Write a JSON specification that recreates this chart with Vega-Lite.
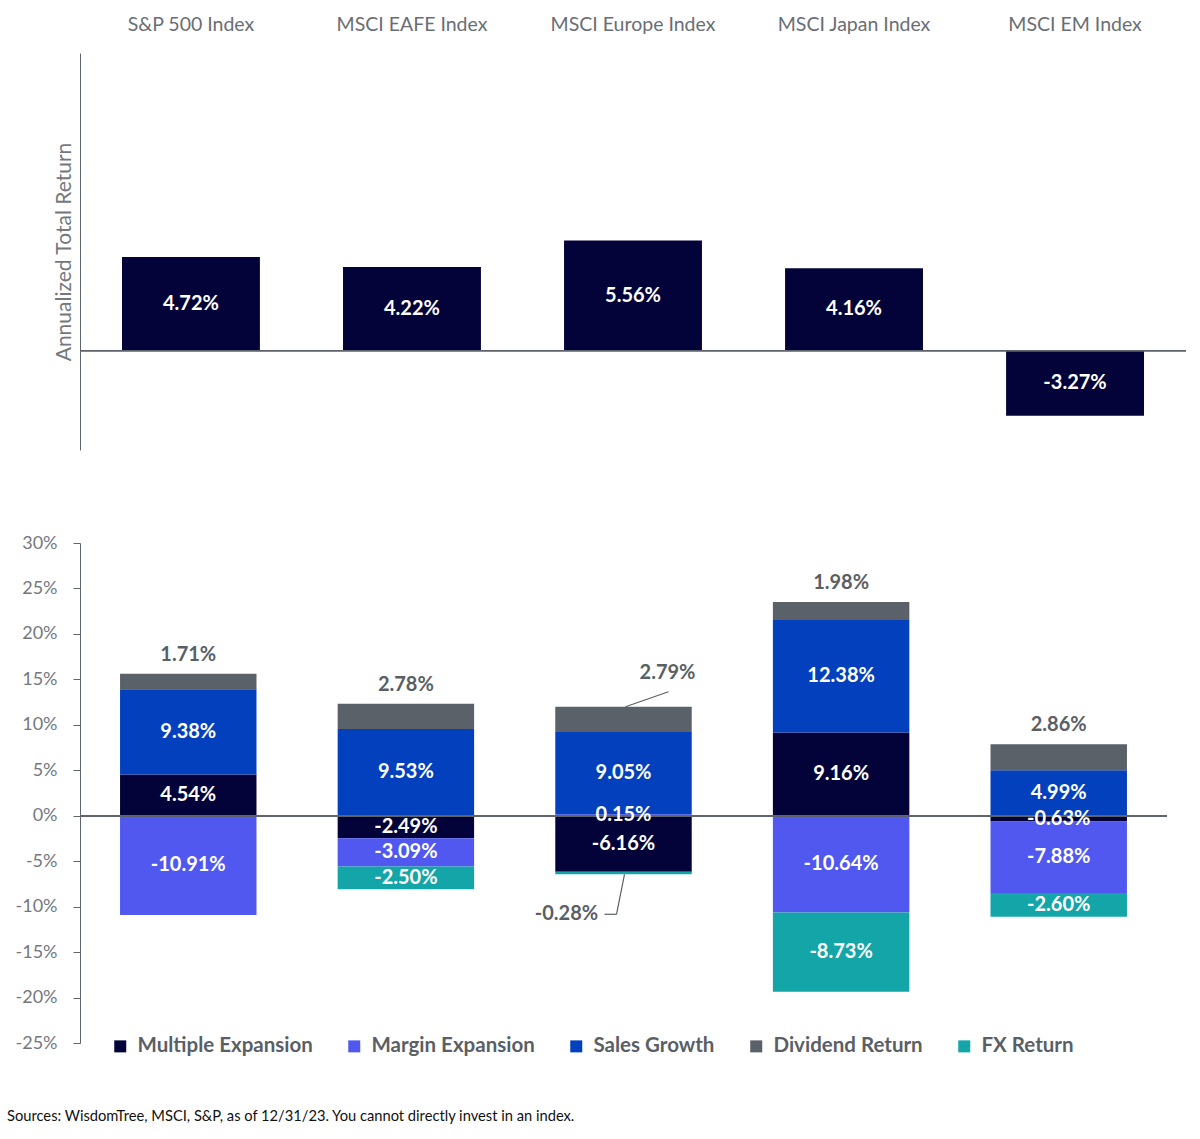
{
  "$schema": "https://vega.github.io/schema/vega-lite/v6.json",
  "padding": {"top": 14, "left": 7, "right": 10, "bottom": 10},
  "background": "white",
  "config": {
    "font": "Lato",
    "view": {"stroke": null},
    "locale": {
      "number": {"decimal": ".", "thousands": ",", "grouping": [3], "currency": ["$", ""], "minus": "-"}
    },
    "axis": {"domainColor": "#5f656d", "tickColor": "#5f656d", "grid": false}
  },
  "datasets": {
    "totals": [
      {"Index": "S&P 500 Index", "ret": 0.0472},
      {"Index": "MSCI EAFE Index", "ret": 0.0422},
      {"Index": "MSCI Europe Index", "ret": 0.0556},
      {"Index": "MSCI Japan Index", "ret": 0.0416},
      {"Index": "MSCI EM Index", "ret": -0.0327}
    ],
    "parts": [
      {"Index": "S&P 500 Index", "Component": "Multiple Expansion", "value": 0.0454},
      {"Index": "S&P 500 Index", "Component": "Margin Expansion", "value": -0.1091},
      {"Index": "S&P 500 Index", "Component": "Sales Growth", "value": 0.0938},
      {"Index": "S&P 500 Index", "Component": "Dividend Return", "value": 0.0171},
      {"Index": "MSCI EAFE Index", "Component": "Multiple Expansion", "value": -0.0249},
      {"Index": "MSCI EAFE Index", "Component": "Margin Expansion", "value": -0.0309},
      {"Index": "MSCI EAFE Index", "Component": "Sales Growth", "value": 0.0953},
      {"Index": "MSCI EAFE Index", "Component": "Dividend Return", "value": 0.0278},
      {"Index": "MSCI EAFE Index", "Component": "FX Return", "value": -0.025},
      {"Index": "MSCI Europe Index", "Component": "Multiple Expansion", "value": -0.0616},
      {"Index": "MSCI Europe Index", "Component": "Margin Expansion", "value": 0.0015},
      {"Index": "MSCI Europe Index", "Component": "Sales Growth", "value": 0.0905},
      {"Index": "MSCI Europe Index", "Component": "Dividend Return", "value": 0.0279},
      {"Index": "MSCI Europe Index", "Component": "FX Return", "value": -0.0028},
      {"Index": "MSCI Japan Index", "Component": "Multiple Expansion", "value": 0.0916},
      {"Index": "MSCI Japan Index", "Component": "Margin Expansion", "value": -0.1064},
      {"Index": "MSCI Japan Index", "Component": "Sales Growth", "value": 0.1238},
      {"Index": "MSCI Japan Index", "Component": "Dividend Return", "value": 0.0198},
      {"Index": "MSCI Japan Index", "Component": "FX Return", "value": -0.0873},
      {"Index": "MSCI EM Index", "Component": "Multiple Expansion", "value": -0.0063},
      {"Index": "MSCI EM Index", "Component": "Margin Expansion", "value": -0.0788},
      {"Index": "MSCI EM Index", "Component": "Sales Growth", "value": 0.0499},
      {"Index": "MSCI EM Index", "Component": "Dividend Return", "value": 0.0286},
      {"Index": "MSCI EM Index", "Component": "FX Return", "value": -0.026}
    ]
  },
  "title": {
    "text": "Sources: WisdomTree, MSCI, S&P, as of 12/31/23. You cannot directly invest in an index.",
    "orient": "bottom",
    "anchor": "start",
    "fontSize": 14.7,
    "fontWeight": "normal",
    "color": "#111111",
    "offset": 52,
    "dx": -8
  },
  "spacing": 84,
  "vconcat": [
    {
      "width": 1106,
      "height": 397,
      "data": {"name": "totals"},
      "encoding": {
        "x": {
          "field": "Index", "type": "nominal", "sort": null,
          "scale": {"paddingInner": 0.376, "paddingOuter": 0.19},
          "axis": {"orient": "top", "title": null, "domain": false, "ticks": false, "labelAngle": 0,
                   "labelFontSize": 19.5, "labelColor": "#6a6e74", "labelPadding": 19}
        }
      },
      "layer": [
        {
          "mark": {"type": "bar", "color": "#03033a"},
          "encoding": {
            "y": {"field": "ret", "type": "quantitative",
                  "scale": {"domain": [-0.05, 0.15], "nice": false},
                  "axis": {"title": "Annualized Total Return", "labels": false, "ticks": false,
                           "titleFontSize": 21, "titleFontWeight": "normal", "titleColor": "#74787e", "titlePadding": 6}}
          }
        },
        {
          "mark": {"type": "rule", "color": "#5f656d", "strokeWidth": 1},
          "encoding": {"y": {"datum": 0, "type": "quantitative"}, "x": null}
        },
        {
          "transform": [{"calculate": "datum.ret / 2", "as": "mid"}],
          "mark": {"type": "text", "color": "white", "fontWeight": "bold", "fontSize": 20, "baseline": "middle"},
          "encoding": {
            "y": {"field": "mid", "type": "quantitative"},
            "text": {"field": "ret", "type": "quantitative", "format": ".2%"}
          }
        }
      ]
    },
    {
      "width": 1087,
      "height": 500,
      "data": {"name": "parts"},
      "transform": [
        {"calculate": "indexof(['Multiple Expansion','Margin Expansion','Sales Growth','Dividend Return','FX Return'], datum.Component)", "as": "ord"},
        {"stack": "value", "groupby": ["Index"], "sort": [{"field": "ord", "order": "ascending"}], "as": ["v0", "v1"]},
        {"calculate": "(datum.v0 + datum.v1) / 2", "as": "mid"}
      ],
      "encoding": {
        "x": {
          "field": "Index", "type": "nominal", "sort": ["S&P 500 Index", "MSCI EAFE Index", "MSCI Europe Index", "MSCI Japan Index", "MSCI EM Index"],
          "scale": {"paddingInner": 0.373, "paddingOuter": 0.184},
          "axis": null
        }
      },
      "layer": [
        {
          "mark": {"type": "bar"},
          "encoding": {
            "y": {"field": "v0", "type": "quantitative",
                  "scale": {"domain": [-0.25, 0.3], "nice": false},
                  "axis": {"title": null, "values": [-0.25, -0.2, -0.15, -0.1, -0.05, 0, 0.05, 0.1, 0.15, 0.2, 0.25, 0.3],
                           "format": ".0%", "labelFontSize": 18, "labelColor": "#74787e", "tickSize": 7, "labelPadding": 16}},
            "y2": {"field": "v1"},
            "color": {
              "field": "Component", "type": "nominal",
              "scale": {
                "domain": ["Multiple Expansion", "Margin Expansion", "Sales Growth", "Dividend Return", "FX Return"],
                "range": ["#03033a", "#5058f0", "#0340bd", "#5a6169", "#13a5a8"]
              },
              "legend": {
                "title": null, "orient": "none", "direction": "horizontal",
                "legendX": 30, "legendY": 983,
                "symbolType": "square", "symbolSize": 144, "symbolStrokeWidth": 0,
                "labelFontSize": 20.5, "labelFontWeight": "bold", "labelColor": "#5a5f66", "labelLimit": 0,
                "labelOffset": 7, "columnPadding": 31
              }
            }
          }
        },
        {
          "mark": {"type": "rule", "color": "#5f656d", "strokeWidth": 1},
          "encoding": {"y": {"datum": 0, "type": "quantitative"}, "x": null}
        },
        {
          "transform": [{"filter": "datum.Component != 'Dividend Return' && !(datum.Index == 'MSCI Europe Index' && datum.Component == 'FX Return')"}],
          "mark": {"type": "text", "color": "white", "fontWeight": "bold", "fontSize": 20, "baseline": "middle"},
          "encoding": {
            "y": {"field": "mid", "type": "quantitative"},
            "text": {"field": "value", "type": "quantitative", "format": ".2%"}
          }
        },
        {
          "transform": [{"filter": "datum.Component == 'Dividend Return' && datum.Index != 'MSCI Europe Index'"}],
          "mark": {"type": "text", "color": "#5a5f66", "fontWeight": "bold", "fontSize": 20, "baseline": "middle", "dy": -19},
          "encoding": {
            "y": {"field": "v1", "type": "quantitative"},
            "text": {"field": "value", "type": "quantitative", "format": ".2%"}
          }
        },
        {
          "transform": [{"filter": "datum.Component == 'Dividend Return' && datum.Index == 'MSCI Europe Index'"}],
          "mark": {"type": "text", "color": "#5a5f66", "fontWeight": "bold", "fontSize": 20, "baseline": "middle", "dx": 44, "dy": -34},
          "encoding": {
            "y": {"field": "v1", "type": "quantitative"},
            "text": {"field": "value", "type": "quantitative", "format": ".2%"}
          }
        },
        {
          "transform": [{"filter": "datum.Component == 'FX Return' && datum.Index == 'MSCI Europe Index'"}],
          "mark": {"type": "text", "color": "#5a5f66", "fontWeight": "bold", "fontSize": 20, "baseline": "middle", "dx": -57, "dy": 40},
          "encoding": {
            "y": {"field": "v1", "type": "quantitative"},
            "text": {"field": "value", "type": "quantitative", "format": ".2%"}
          }
        },
        {
          "transform": [{"filter": "datum.Component == 'Dividend Return' && datum.Index == 'MSCI Europe Index'"}],
          "mark": {"type": "rule", "color": "#5a5f66", "strokeWidth": 1.2, "xOffset": 2, "x2Offset": 45, "y2Offset": -15},
          "encoding": {
            "x": {"field": "Index", "type": "nominal", "bandPosition": 0.5},
            "x2": {"field": "Index", "bandPosition": 0.5},
            "y": {"field": "v1", "type": "quantitative"},
            "y2": {"field": "v1"}
          }
        },
        {
          "transform": [{"filter": "datum.Component == 'FX Return' && datum.Index == 'MSCI Europe Index'"}],
          "mark": {"type": "rule", "color": "#5a5f66", "strokeWidth": 1.2, "xOffset": 1, "x2Offset": -7, "y2Offset": 40},
          "encoding": {
            "x": {"field": "Index", "type": "nominal", "bandPosition": 0.5},
            "x2": {"field": "Index", "bandPosition": 0.5},
            "y": {"field": "v1", "type": "quantitative"},
            "y2": {"field": "v1"}
          }
        },
        {
          "transform": [{"filter": "datum.Component == 'FX Return' && datum.Index == 'MSCI Europe Index'"}],
          "mark": {"type": "rule", "color": "#5a5f66", "strokeWidth": 1.2, "xOffset": -7, "x2Offset": -19, "yOffset": 40, "y2Offset": 40},
          "encoding": {
            "x": {"field": "Index", "type": "nominal", "bandPosition": 0.5},
            "x2": {"field": "Index", "bandPosition": 0.5},
            "y": {"field": "v1", "type": "quantitative"},
            "y2": {"field": "v1"}
          }
        }
      ]
    }
  ]
}
